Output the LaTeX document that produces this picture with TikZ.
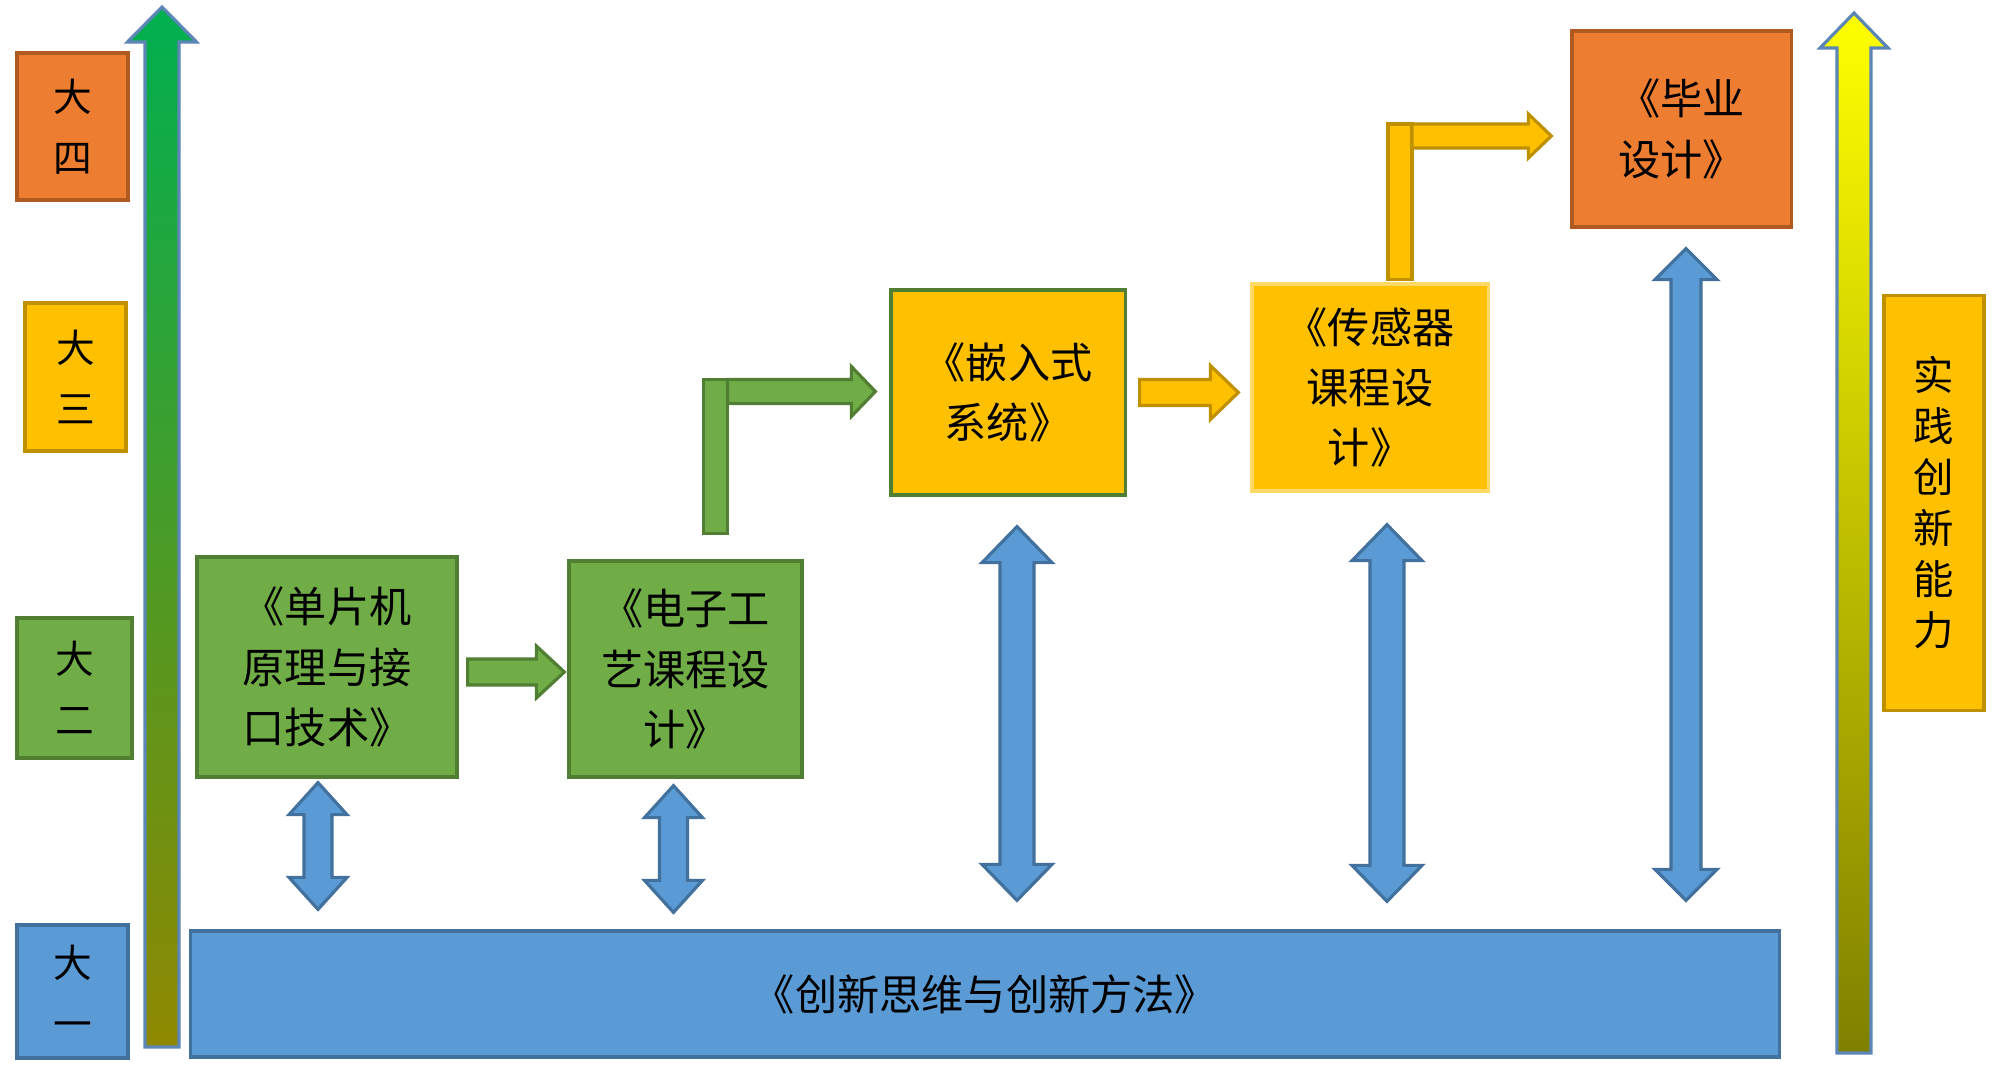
\documentclass[tikz,border=0pt]{standalone}
\usepackage{fontspec}
\usepackage{tikz}
\usetikzlibrary{calc}
\newfontfamily\cjk{Noto Sans CJK SC}
\definecolor{cblue}{HTML}{5B9BD5}
\definecolor{cblued}{HTML}{41719C}
\definecolor{cgreen}{HTML}{70AD47}
\definecolor{cgreend}{HTML}{507E32}
\definecolor{cgold}{HTML}{FFC000}
\definecolor{cgoldd}{HTML}{BF9000}
\definecolor{corange}{HTML}{ED7D31}
\definecolor{coranged}{HTML}{AE5A21}
\definecolor{cedge}{HTML}{5B86B5}
\definecolor{lefttop}{HTML}{00B050}
\definecolor{leftmid}{HTML}{6AA53A}
\definecolor{leftbot}{HTML}{8F8800}
\definecolor{righttop}{HTML}{FFFF00}
\definecolor{rightmid}{HTML}{CCC800}
\definecolor{rightbot}{HTML}{808000}
% fat arrow pointing right: style, start, tip, shaft half, head half, head length
\newcommand{\fatright}[6]{\draw[#1] ($(#2)+(0,-#4)$) -- ($(#3)+(-#6,-#4)$) -- ($(#3)+(-#6,-#5)$) -- (#3) -- ($(#3)+(-#6,#5)$) -- ($(#3)+(-#6,#4)$) -- ($(#2)+(0,#4)$) -- cycle;}
% fat arrow up and down: style, top tip, bottom tip, shaft half, head half, head length
\newcommand{\fatupdown}[6]{\draw[#1] (#2) -- ($(#2)+(#5,#6)$) -- ($(#2)+(#4,#6)$) -- ($(#3)+(#4,-#6)$) -- ($(#3)+(#5,-#6)$) -- (#3) -- ($(#3)+(-#5,-#6)$) -- ($(#3)+(-#4,-#6)$) -- ($(#2)+(-#4,#6)$) -- ($(#2)+(-#5,#6)$) -- cycle;}

\begin{document}
\begin{tikzpicture}[x=0.01cm, y=-0.01cm]
  \tikzstyle{grade}=[rectangle, line width=0.9pt, inner sep=0pt, align=center, font=\cjk\fontsize{11}{17.4}\selectfont]
  \tikzstyle{course}=[rectangle, line width=0.9pt, inner sep=0pt, align=center, font=\cjk\fontsize{12}{17.1}\selectfont]
  \tikzstyle{garrow}=[fill=cgreen, draw=cgreend, line width=0.9pt, line join=miter]
  \tikzstyle{oarrow}=[fill=cgold, draw=cgoldd, line width=0.9pt, line join=miter]
  \tikzstyle{barrow}=[fill=cblue, draw=cblued, line width=0.9pt, line join=miter]
  \tikzstyle{gradarrow}=[draw=cedge, line width=0.9pt, line join=miter]
  \useasboundingbox[fill=white] (0,0) rectangle (2000,1082);
    % years
    \node[grade, fill=corange, draw=coranged, minimum width=1.11cm, minimum height=1.47cm] (dasi) at (72.5,126.5) {大\\四};
    \node[grade, fill=cgold, draw=cgoldd, minimum width=1.01cm, minimum height=1.48cm] (dasan) at (75.5,377) {大\\三};
    \node[grade, fill=cgreen, draw=cgreend, minimum width=1.15cm, minimum height=1.40cm] (daer) at (74.5,688) {大\\二};
    \node[grade, fill=cblue, draw=cblued, minimum width=1.11cm, minimum height=1.33cm] (dayi) at (72.5,991.5) {大\\一};
    % courses
    \node[course, fill=cgreen, draw=cgreend, minimum width=2.60cm, minimum height=2.20cm] (dpj) at (327,667) {《单片机\\原理与接\\口技术》};
    \node[course, fill=cgreen, draw=cgreend, minimum width=2.33cm, minimum height=2.16cm] (dzgy) at (685.5,669) {《电子工\\艺课程设\\计》};
    \node[course, fill=cgold, draw=cgreend, minimum width=2.34cm, minimum height=2.05cm] (qrs) at (1008,392.5) {《嵌入式\\系统》};
    \node[course, fill=cgold, draw=cgold!60!white, minimum width=2.36cm, minimum height=2.07cm] (cgq) at (1370,387.5) {《传感器\\课程设\\计》};
    \node[course, fill=corange, draw=coranged, minimum width=2.19cm, minimum height=1.96cm] (bysj) at (1681.5,129) {《毕业\\设计》};
    \node[course, fill=cblue, draw=cblued, minimum width=15.88cm, minimum height=1.26cm] (cxsw) at (985,994) {《创新思维与创新方法》};
    \node[grade, fill=cgold, draw=cgoldd, minimum width=1.00cm, minimum height=4.14cm, font=\cjk\fontsize{11.5}{14.5}\selectfont] (sjcx) at (1934,503) {实\\践\\创\\新\\能\\力};
    % growth arrows
    \shadedraw[gradarrow, top color=lefttop, middle color=leftmid, bottom color=leftbot]
      (162,7) -- (196.5,42) -- (179,42) -- (179,1047) -- (145,1047) -- (145,42) -- (127.5,42) -- cycle;
    \shadedraw[gradarrow, top color=righttop, middle color=rightmid, bottom color=rightbot]
      (1854,13) -- (1888,48) -- (1871,48) -- (1871,1053) -- (1837,1053) -- (1837,48) -- (1820,48) -- cycle;
    % straight arrows
    \coordinate (a1s) at ($(dpj.east)+(9,5)$);
    \coordinate (a1e) at ($(a1s -| dzgy.west)+(-3,0)$);
    \fatright{garrow}{a1s}{a1e}{13}{26}{28}
    \coordinate (a2s) at ($(qrs.east)+(13,0)$);
    \coordinate (a2e) at ($(a2s -| cgq.west)+(-12,0)$);
    \fatright{oarrow}{a2s}{a2e}{13}{27}{28}
    % bent arrows
    \coordinate (b1s) at ($(dzgy.north)+(30,-26)$);
    \coordinate (b1e) at ($(qrs.west)+(-14,-1)$);
    \coordinate (b1c) at (b1s |- b1e);
    \draw[garrow] ($(b1s)+(-12,0)$) rectangle ($(b1c)+(12,-12)$);
    \coordinate (b1h) at ($(b1c)+(12,0)$);
    \fatright{garrow}{b1h}{b1e}{12}{25}{24}
    \coordinate (b2s) at ($(cgq.north)+(30,-3)$);
    \coordinate (b2e) at ($(bysj.west)+(-19,7)$);
    \coordinate (b2c) at (b2s |- b2e);
    \draw[oarrow] ($(b2s)+(-12,0)$) rectangle ($(b2c)+(12,-12)$);
    \coordinate (b2h) at ($(b2c)+(12,0)$);
    \fatright{oarrow}{b2h}{b2e}{12}{22}{23}
    % links to the base course
    \coordinate (d1t) at ($(dpj.south)+(-9,4)$);
    \coordinate (d1b) at ($(d1t |- cxsw.north)+(0,-20)$);
    \fatupdown{barrow}{d1t}{d1b}{14}{29}{32}
    \coordinate (d2t) at ($(dzgy.south)+(-12,7)$);
    \coordinate (d2b) at ($(d2t |- cxsw.north)+(0,-17)$);
    \fatupdown{barrow}{d2t}{d2b}{14}{29}{32}
    \coordinate (d3t) at ($(qrs.south)+(9,30)$);
    \coordinate (d3b) at ($(d3t |- cxsw.north)+(0,-29)$);
    \fatupdown{barrow}{d3t}{d3b}{17}{35}{36}
    \coordinate (d4t) at ($(cgq.south)+(17,32)$);
    \coordinate (d4b) at ($(d4t |- cxsw.north)+(0,-28)$);
    \fatupdown{barrow}{d4t}{d4b}{17}{35}{36}
    \coordinate (d5t) at ($(bysj.south)+(4.5,20)$);
    \coordinate (d5b) at ($(d5t |- cxsw.north)+(0,-29)$);
    \fatupdown{barrow}{d5t}{d5b}{15}{31}{31}
\end{tikzpicture}
\end{document}
